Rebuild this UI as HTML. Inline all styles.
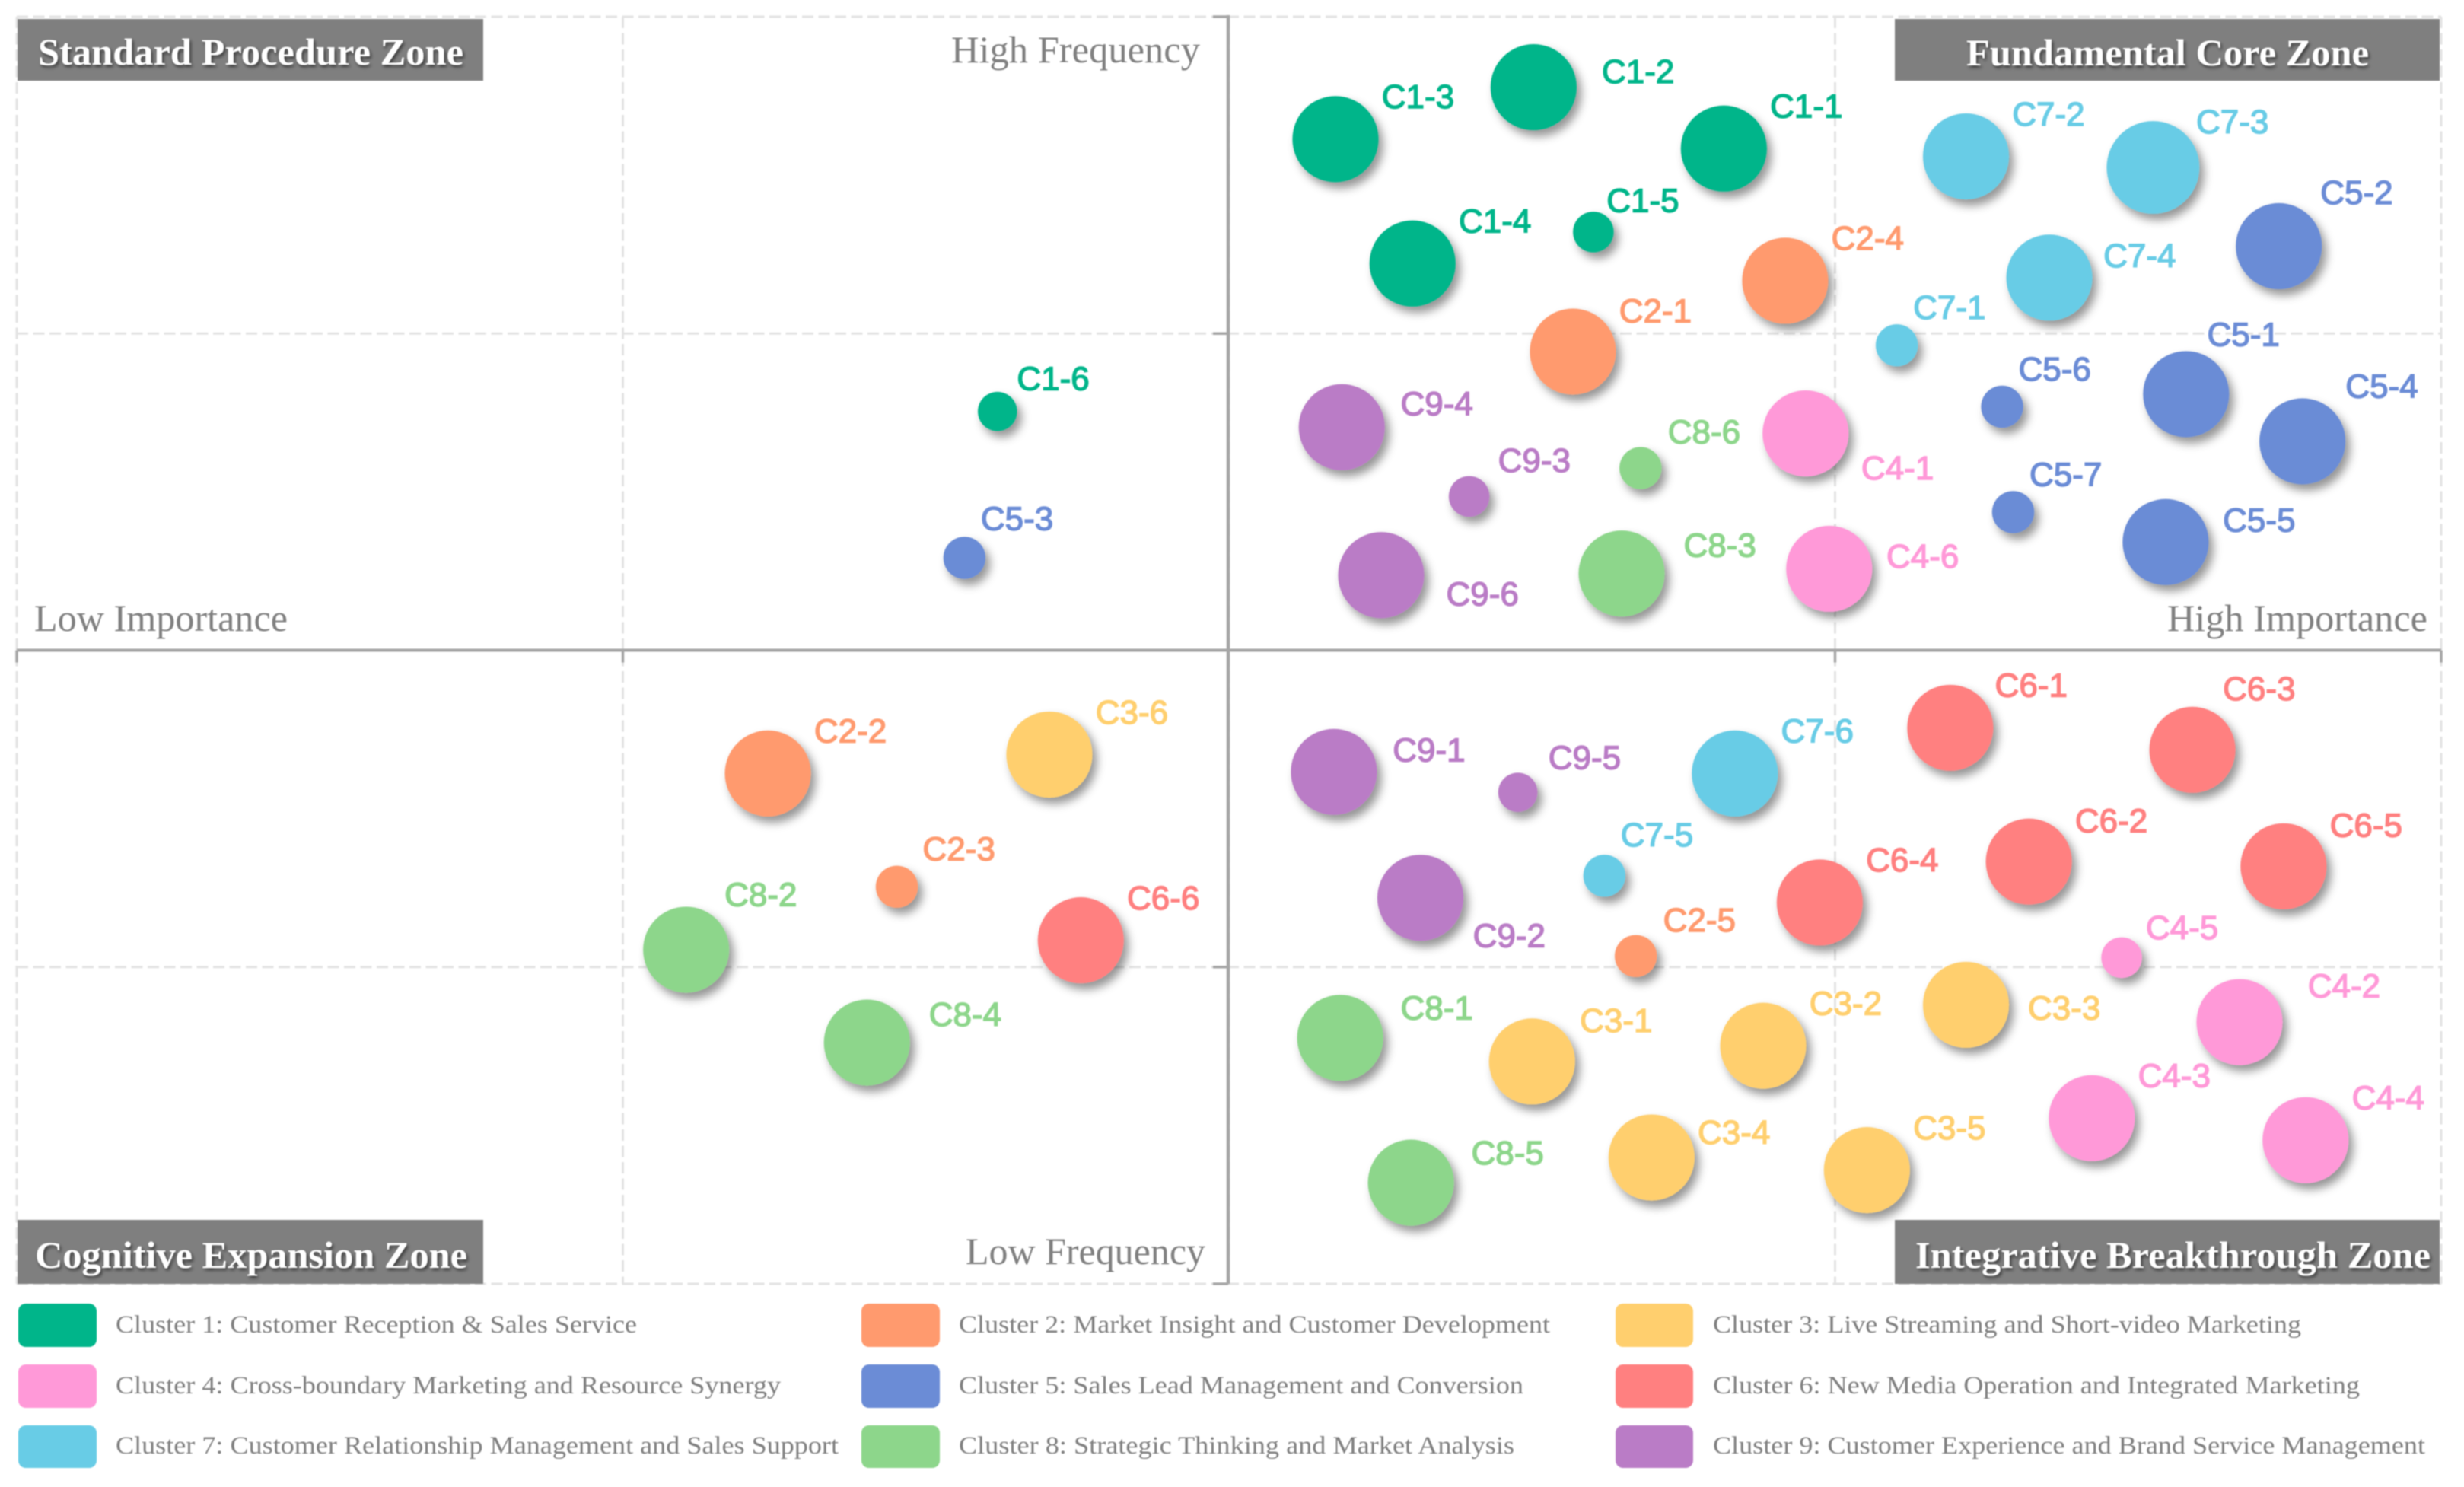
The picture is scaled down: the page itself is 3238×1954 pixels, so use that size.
<!DOCTYPE html>
<html lang="en">
<head>
<meta charset="utf-8">
<title>Skill cluster quadrant chart</title>
<style>
  html, body { margin: 0; padding: 0; background: #ffffff; }
  #chart { display: block; width: 3238px; height: 1954px; filter: blur(0.8px); }
  .banner-text { font-family: "Liberation Serif", serif; font-weight: bold; font-size: 50px; fill: #ffffff; }
  .corner-text { font-family: "Liberation Serif", serif; font-size: 50px; fill: #808080; }
  .legend-text { font-family: "Liberation Serif", serif; font-size: 33px; fill: #7f7f7f; }
  .point-label { font-family: "Liberation Sans", sans-serif; font-size: 44px; font-weight: normal; stroke-width: 1.4px; }
</style>
</head>
<body>
<svg id="chart" xmlns="http://www.w3.org/2000/svg" width="3238" height="1954" viewBox="0 0 3238 1954">
  <defs>
    <filter id="bubble-shadow" x="-40%" y="-40%" width="190%" height="190%">
      <feDropShadow dx="6" dy="8" stdDeviation="6" flood-color="#000000" flood-opacity="0.42"/>
    </filter>
    <filter id="text-shadow" x="-5%" y="-20%" width="110%" height="150%">
      <feDropShadow dx="2" dy="3" stdDeviation="2" flood-color="#000000" flood-opacity="0.55"/>
    </filter>
  </defs>
  <rect x="0" y="0" width="3238" height="1954" fill="#ffffff"/>
  <g id="grid-layer"></g>
  <g id="axis-layer"></g>
  <g id="point-layer"></g>

  <g>
    <rect x="23" y="25" width="612" height="81" fill="#7f7f7f"/>
    <text class="banner-text" x="50" y="85" textLength="559" lengthAdjust="spacingAndGlyphs" filter="url(#text-shadow)">Standard Procedure Zone</text>
  </g>
  <g>
    <rect x="2490" y="25" width="716" height="81" fill="#7f7f7f"/>
    <text class="banner-text" x="2584" y="86" textLength="529" lengthAdjust="spacingAndGlyphs" filter="url(#text-shadow)">Fundamental Core Zone</text>
  </g>
  <g>
    <rect x="23" y="1603" width="612" height="84" fill="#7f7f7f"/>
    <text class="banner-text" x="46" y="1666" textLength="568" lengthAdjust="spacingAndGlyphs" filter="url(#text-shadow)">Cognitive Expansion Zone</text>
  </g>
  <g>
    <rect x="2490" y="1603" width="716" height="84" fill="#7f7f7f"/>
    <text class="banner-text" x="2517" y="1666" textLength="677" lengthAdjust="spacingAndGlyphs" filter="url(#text-shadow)">Integrative Breakthrough Zone</text>
  </g>

  <text class="corner-text" x="1250" y="82" textLength="327" lengthAdjust="spacingAndGlyphs">High Frequency</text>
  <text class="corner-text" x="1269" y="1661" textLength="315" lengthAdjust="spacingAndGlyphs">Low Frequency</text>
  <text class="corner-text" x="45" y="829" textLength="333" lengthAdjust="spacingAndGlyphs">Low Importance</text>
  <text class="corner-text" x="2848" y="829" textLength="342" lengthAdjust="spacingAndGlyphs">High Importance</text>

  <g>
    <g>
      <rect x="24" y="1713" width="103" height="57" rx="10" fill="#00b58a"/>
      <text class="legend-text" x="152" y="1751" textLength="685" lengthAdjust="spacingAndGlyphs">Cluster 1: Customer Reception &amp; Sales Service</text>
    </g>
    <g>
      <rect x="24" y="1793" width="103" height="57" rx="10" fill="#ff99d8"/>
      <text class="legend-text" x="152" y="1831" textLength="874" lengthAdjust="spacingAndGlyphs">Cluster 4: Cross-boundary Marketing and Resource Synergy</text>
    </g>
    <g>
      <rect x="24" y="1873" width="103" height="56" rx="10" fill="#68cce6"/>
      <text class="legend-text" x="152" y="1910" textLength="950" lengthAdjust="spacingAndGlyphs">Cluster 7: Customer Relationship Management and Sales Support</text>
    </g>
    <g>
      <rect x="1132" y="1713" width="103" height="57" rx="10" fill="#ff9a6e"/>
      <text class="legend-text" x="1260" y="1751" textLength="777" lengthAdjust="spacingAndGlyphs">Cluster 2: Market Insight and Customer Development</text>
    </g>
    <g>
      <rect x="1132" y="1793" width="103" height="57" rx="10" fill="#6b8cd6"/>
      <text class="legend-text" x="1260" y="1831" textLength="742" lengthAdjust="spacingAndGlyphs">Cluster 5: Sales Lead Management and Conversion</text>
    </g>
    <g>
      <rect x="1132" y="1873" width="103" height="56" rx="10" fill="#8dd68b"/>
      <text class="legend-text" x="1260" y="1910" textLength="730" lengthAdjust="spacingAndGlyphs">Cluster 8: Strategic Thinking and Market Analysis</text>
    </g>
    <g>
      <rect x="2123" y="1713" width="102" height="57" rx="10" fill="#ffcf6e"/>
      <text class="legend-text" x="2251" y="1751" textLength="773" lengthAdjust="spacingAndGlyphs">Cluster 3: Live Streaming and Short-video Marketing</text>
    </g>
    <g>
      <rect x="2123" y="1793" width="102" height="57" rx="10" fill="#ff8080"/>
      <text class="legend-text" x="2251" y="1831" textLength="850" lengthAdjust="spacingAndGlyphs">Cluster 6: New Media Operation and Integrated Marketing</text>
    </g>
    <g>
      <rect x="2123" y="1873" width="102" height="56" rx="10" fill="#ba7cc6"/>
      <text class="legend-text" x="2251" y="1910" textLength="936" lengthAdjust="spacingAndGlyphs">Cluster 9: Customer Experience and Brand Service Management</text>
    </g>
  </g>
</svg>

<script>
// ---- chart data ----
const pointIds = [
  "C1-1","C1-2","C1-3","C1-4","C1-5","C1-6",
  "C2-1","C2-2","C2-3","C2-4","C2-5",
  "C3-1","C3-2","C3-3","C3-4","C3-5","C3-6",
  "C4-1","C4-2","C4-3","C4-4","C4-5","C4-6",
  "C5-1","C5-2","C5-3","C5-4","C5-5","C5-6","C5-7",
  "C6-1","C6-2","C6-3","C6-4","C6-5","C6-6",
  "C7-1","C7-2","C7-3","C7-4","C7-5","C7-6",
  "C8-1","C8-2","C8-3","C8-4","C8-5","C8-6",
  "C9-1","C9-2","C9-3","C9-4","C9-5","C9-6"
];
const importanceValues = [
  1086,965,839,888,1003,624,
  990,478,560,1125,1030,
  964,1111,1240,1040,1177,657,
  1138,1414,1320,1456,1339,1153,
  1380,1439,603,1454,1367,1263,1270,
  1230,1280,1384,1147,1442,677,
  1196,1240,1359,1293,1010,1093,
  842,426,1021,541,887,1033,
  838,893,924,843,955,868
];
const frequencyValues = [
  721,760,727,648,668,554,
  592,324,252,637,208,
  141,151,177,80,72,336,
  540,166,105,91,207,454,
  565,659,461,535,471,557,490,
  353,268,339,242,265,218,
  596,716,709,639,259,324,
  156,212,451,153,64,518,
  325,245,500,544,312,450
];
const bubbleSizes = [
  12.5,12.5,12.5,12.5,2.8,2.6,
  12.5,12.5,3,12.5,3,
  12.5,12.5,12.5,12.5,12.5,12.5,
  12.5,12.5,12.5,12.5,2.8,12.5,
  12.5,12.5,3,12.5,12.5,3,3,
  12.5,12.5,12.5,12.5,12.5,12.5,
  3,12.5,14.5,12.5,3,12.5,
  12.5,12.5,12.5,12.5,12.5,3,
  12.5,12.5,2.8,12.5,2.6,12.5
];
const clusterColors = ["#00b58a","#ff9a6e","#ffcf6e","#ff99d8","#6b8cd6","#ff8080","#68cce6","#8dd68b","#ba7cc6"];
const importanceTicks = [0, 385.5, 771, 1156.5, 1542];
const frequencyTicks = [0, 201.25, 402.5, 603.75, 805];

// label placement relative to each bubble (annotation layout, not data)
const labelShiftX = [
  52,66,52,52,31,35,
  52,52,39,52,40,
  53,52,62,52,52,52,
  58,66,52,52,38,59,
  36,49,33,50,59,33,33,
  51,52,42,52,52,52,
  33,52,50,57,33,52,
  61,47,62,62,61,40,
  60,56,41,60,42,64
];
const labelShiftY = [
  -27,-10,-27,-27,-20,-21,
  -26,-27,-24,-27,-23,
  -26,-27,2,-16,-27,-27,
  22,-23,-27,-27,-19,-8,
  -38,-34,-25,-35,-14,-24,-24,
  -27,-26,-39,-27,-26,-27,
  -24,-27,-29,-14,-26,-27,
  -19,-35,-18,-18,-19,-23,
  -14,24,-23,-15,-22,12
];

// ---- axis functions ----
const plotLeft = 22, plotRight = 3208, plotTop = 22, plotBottom = 1687;
const importanceMax = 1542, frequencyMax = 805;
const labelScale = (plotRight - plotLeft) / importanceMax;
function xScale(v) { return plotLeft + (v / importanceMax) * (plotRight - plotLeft); }
function yScale(v) { return plotBottom - (v / frequencyMax) * (plotBottom - plotTop); }
function rScale(v) { return 16 * Math.sqrt(v); }

const SVG_NS = "http://www.w3.org/2000/svg";
function makeSvg(tag, attrs) {
  const el = document.createElementNS(SVG_NS, tag);
  for (const k in attrs) el.setAttribute(k, attrs[k]);
  return el;
}

// ---- grid ----
const gridLayer = document.getElementById("grid-layer");
importanceTicks.forEach(function (t) {
  const line = makeSvg("line", { x1: xScale(t), x2: xScale(t), y1: plotTop, y2: plotBottom, stroke: "#e3e3e3", "stroke-width": 3, "stroke-dasharray": "15 6.5" });
  
  
  gridLayer.appendChild(line);
});
frequencyTicks.forEach(function (t) {
  const line = makeSvg("line", { x1: plotLeft, x2: plotRight, y1: yScale(t), y2: yScale(t), stroke: "#e3e3e3", "stroke-width": 3, "stroke-dasharray": "15 6.5" });
  
  
  gridLayer.appendChild(line);
});

// ---- axes and ticks ----
const axisLayer = document.getElementById("axis-layer");
const xAxisY = yScale(frequencyMax / 2), yAxisX = xScale(importanceMax / 2) - 1;
const xAxisLine = makeSvg("line", { x1: plotLeft, x2: plotRight, y1: xAxisY, y2: xAxisY, stroke: "#a6a6a6", "stroke-width": 4 });


axisLayer.appendChild(xAxisLine);
const yAxisLine = makeSvg("line", { x1: yAxisX, x2: yAxisX, y1: plotTop - 2, y2: plotBottom, stroke: "#a6a6a6", "stroke-width": 4.5 });


axisLayer.appendChild(yAxisLine);
importanceTicks.forEach(function (t) {
  if (t === importanceMax / 2) return;
  const tick = makeSvg("line", { x1: xScale(t), x2: xScale(t), y1: xAxisY, y2: xAxisY + 16, stroke: "#a6a6a6", "stroke-width": 3.5 });
  
  
  axisLayer.appendChild(tick);
});
frequencyTicks.forEach(function (t) {
  if (t === frequencyMax / 2) return;
  const tick = makeSvg("line", { x1: yAxisX - 20, x2: yAxisX, y1: yScale(t), y2: yScale(t), stroke: "#a6a6a6", "stroke-width": 3.5 });
  
  
  axisLayer.appendChild(tick);
});

// ---- bubbles and labels ----
const pointLayer = document.getElementById("point-layer");
pointIds.forEach(function (id, i) {
  const color = clusterColors[parseInt(id.charAt(1), 10) - 1];
  const cx = xScale(importanceValues[i]) - 0.5;
  const cy = yScale(frequencyValues[i]) - 0.5;
  const circle = makeSvg("circle", { cx: cx, cy: cy, r: rScale(bubbleSizes[i]), fill: color, filter: "url(#bubble-shadow)" });
  
  
  pointLayer.appendChild(circle);
  const label = makeSvg("text", { x: cx + labelShiftX[i] * labelScale + 1, y: cy + labelShiftY[i] * labelScale + 15, "text-anchor": "middle", fill: color, stroke: color, "class": "point-label" });
  label.textContent = id;
  
  
  pointLayer.appendChild(label);
});
</script>
</body>
</html>
